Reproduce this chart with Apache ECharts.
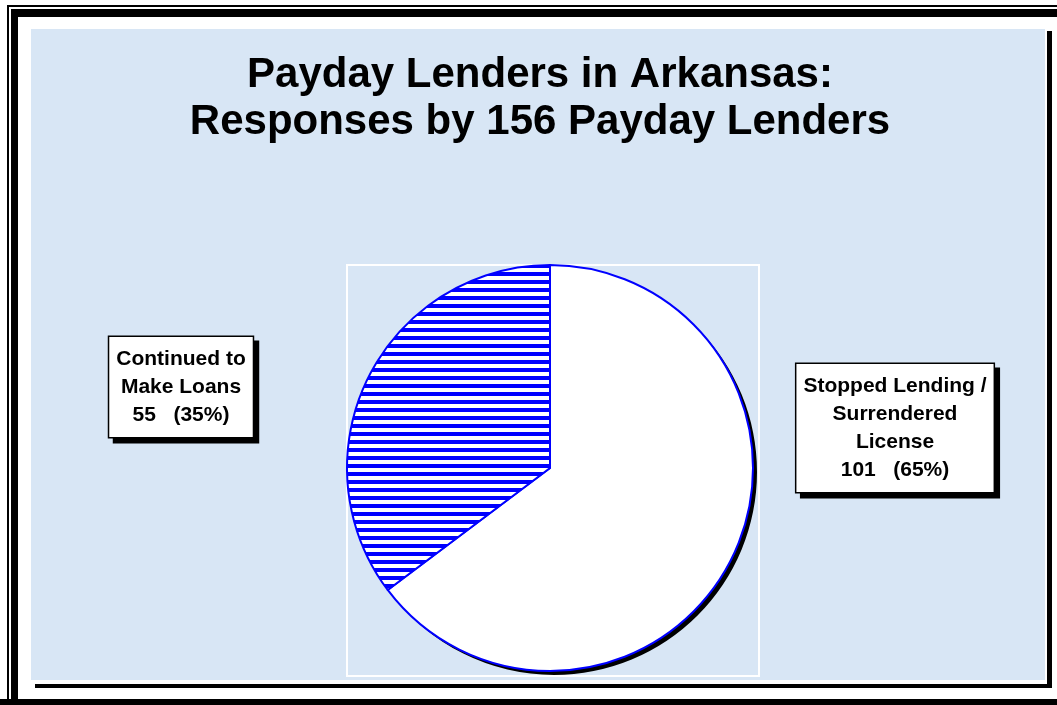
<!DOCTYPE html>
<html>
<head>
<meta charset="utf-8">
<script src="https://cdn.jsdelivr.net/npm/echarts@6/dist/echarts.min.js"></script>
<style>
html,body{margin:0;padding:0;background:#fff;}
#chart{width:1057px;height:705px;}
</style>
</head>
<body>
<div id="chart"></div>
<script>
// ---- data ----
const titleLines = ["Payday Lenders in Arkansas:", "Responses by 156 Payday Lenders"];
const categories = ["Stopped Lending /\nSurrendered\nLicense", "Continued to\nMake Loans"];
const values = [101, 55];

// ---- stripe pattern ----
const pat = document.createElement('canvas');
pat.width = 8; pat.height = 8;
const pctx = pat.getContext('2d');
pctx.fillStyle = '#ffffff'; pctx.fillRect(0, 0, 8, 8);
pctx.fillStyle = '#0000ff'; pctx.fillRect(0, 0, 8, 4);

const FONT = '"Liberation Sans", Arial, Helvetica, sans-serif';
const chart = echarts.init(document.getElementById('chart'), null, {renderer: 'canvas'});

const labelPos = [[895, 428], [181, 387]];
const styles = [
  {color: '#ffffff', borderColor: '#0000ff', borderWidth: 2},
  {color: {image: pat, repeat: 'repeat'}, borderColor: '#0000ff', borderWidth: 2}
];

const frame = [
  [7, 5, 2, 700], [7, 5, 1050, 2], [0, 699, 1057, 6],
  [11, 9, 7, 691], [11, 9, 1046, 8], [1047, 31, 5, 657], [35, 684, 1017, 4]
];

const option = {
  backgroundColor: '#ffffff',
  animation: false,
  title: {
    text: titleLines.join('\n'),
    left: 535, top: 47, textAlign: 'center',
    textStyle: {fontFamily: FONT, fontWeight: 'bold', fontSize: 42, lineHeight: 47, color: '#000'}
  },
  graphic: [
    {type: 'rect', z: -10, shape: {x: 31, y: 29, width: 1014, height: 651}, style: {fill: '#d8e6f5'}},
    ...frame.map(f => ({type: 'rect', z: -5, shape: {x: f[0], y: f[1], width: f[2], height: f[3]}, style: {fill: '#000'}})),
    {type: 'rect', z: -4, shape: {x: 347, y: 265, width: 412, height: 411}, style: {fill: null, stroke: '#ffffff', lineWidth: 2}}
  ],
  series: [{
    // drop shadow of the pie
    type: 'pie',
    z: 1,
    silent: true,
    center: [554, 472],
    radius: 203,
    startAngle: 90,
    clockwise: true,
    data: categories.map((n, i) => ({name: n, value: values[i]})),
    itemStyle: {color: '#000', borderWidth: 0},
    label: {show: false},
    labelLine: {show: false},
    emphasis: {disabled: true}
  }, {
    type: 'pie',
    z: 2,
    center: [550, 468],
    radius: 203,
    startAngle: 90,
    clockwise: true,
    percentPrecision: 0,
    data: categories.map((n, i) => ({name: n, value: values[i], itemStyle: styles[i]})),
    label: {
      show: true,
      formatter: p => p.name + '\n' + p.value + '   (' + p.percent + '%)',
      fontFamily: FONT, fontWeight: 'bold', fontSize: 21, lineHeight: 28, color: '#000',
      align: 'center',
      backgroundColor: '#fff', borderColor: '#000', borderWidth: 1.5,
      padding: [8, 7],
      shadowColor: '#000', shadowOffsetX: 5, shadowOffsetY: 5, shadowBlur: 0
    },
    labelLine: {show: false},
    labelLayout: p => ({x: labelPos[p.dataIndex][0], y: labelPos[p.dataIndex][1], align: 'center', verticalAlign: 'middle'}),
    emphasis: {disabled: true}
  }]
};
chart.setOption(option);
</script>
</body>
</html>
